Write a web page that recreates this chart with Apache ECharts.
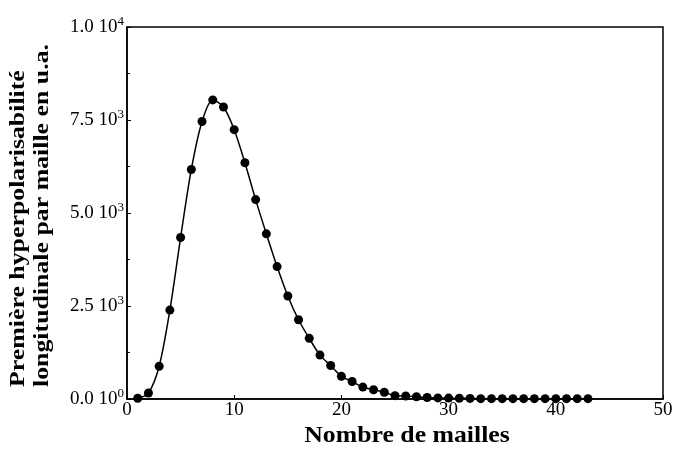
<!DOCTYPE html>
<html><head><meta charset="utf-8">
<script src="https://cdn.jsdelivr.net/npm/echarts@6/dist/echarts.min.js"></script>
<style>html,body{margin:0;padding:0;background:#fff}#c{width:678px;height:450px}</style>
</head><body><div id="c"></div>
<script>
const xValues = [1,2,3,4,5,6,7,8,9,10,11,12,13,14,15,16,17,18,19,20,21,22,23,24,25,26,27,28,29,30,31,32,33,34,35,36,37,38,39,40,41,42,43];
const yValues = [20,160,880,2390,4340,6170,7460,8040,7850,7240,6350,5360,4440,3560,2770,2130,1630,1180,900,610,470,320,250,180,90,80,60,40,30,25,20,15,10,10,10,10,10,10,10,10,10,10,10];
const yTickValues = [0,2500,5000,7500,10000];
const yTickMant = ['0.0','2.5','5.0','7.5','1.0'];
const yTickExp = ['0','3','3','3','4'];
const xTitle = 'Nombre de mailles';
const yTitle = 'Première hyperpolarisabilité\nlongitudinale par maille en u.a.';

const FONT = 'Liberation Serif';
const chart = echarts.init(document.getElementById('c'));
chart.setOption({
  backgroundColor: '#fff',
  animation: false,
  grid: {left: 127, right: 15, top: 27, bottom: 51, outerBoundsMode: 'none', containLabel: false,
         show: true, borderColor: '#000', borderWidth: 1.5},
  graphic: [
    {type: 'text', x: 407, y: 436, silent: true, scaleX: 1.12,
     style: {text: xTitle, font: 'bold 23px "Liberation Serif"', fill: '#000', align: 'center', verticalAlign: 'middle'}},
    {type: 'text', x: 31, y: 387, rotation: Math.PI / 2, scaleX: 1.23, silent: true,
     style: {text: yTitle, font: 'bold 21px "Liberation Serif"', lineHeight: 24, fill: '#000', align: 'left', verticalAlign: 'middle'}}
  ],
  xAxis: {
    type: 'value', min: 0, max: 50, interval: 10,
    axisLine: {lineStyle: {color: '#000', width: 1.5}},
    axisTick: {inside: true, length: 4, lineStyle: {color: '#000'}},
    axisLabel: {fontFamily: FONT, fontSize: 19, color: '#000', margin: 2},
    splitLine: {show: false}
  },
  yAxis: {
    type: 'value', min: 0, max: 10000, interval: 2500,
    axisLine: {lineStyle: {color: '#000', width: 1.5}},
    axisTick: {inside: true, length: 4, lineStyle: {color: '#000'}},
    minorTick: {show: true, splitNumber: 2, length: 3, lineStyle: {color: '#000'}},
    axisLabel: {
      fontFamily: FONT, fontSize: 19, color: '#000', margin: 3,
      formatter: function (v) {
        const i = yTickValues.indexOf(v);
        return i < 0 ? '' : yTickMant[i] + ' 10{s|' + yTickExp[i] + '}';
      },
      rich: {s: {fontFamily: FONT, fontSize: 13, color: '#000', padding: [0, 0, 10, 0]}}
    },
    splitLine: {show: false}
  },
  series: [{
    type: 'line',
    data: xValues.map((x, i) => [x, yValues[i]]),
    smooth: 0.3,
    symbol: 'circle', symbolSize: 9,
    itemStyle: {color: '#000'},
    lineStyle: {color: '#000', width: 1.5}
  }]
});
</script></body></html>
